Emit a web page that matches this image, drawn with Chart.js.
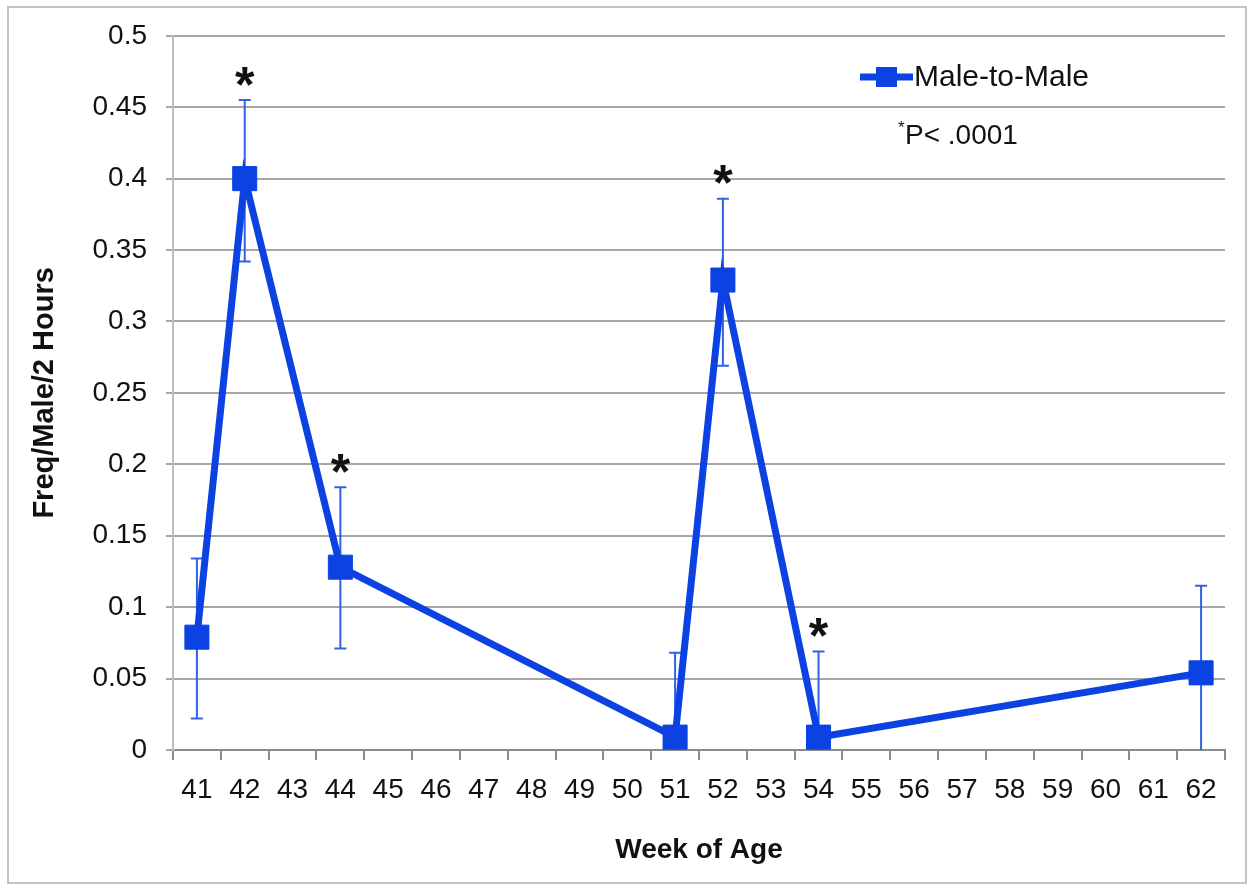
<!DOCTYPE html>
<html>
<head>
<meta charset="utf-8">
<script src="https://cdn.jsdelivr.net/npm/chart.js@4.4.0/dist/chart.umd.min.js"></script>
<style>
  html, body { margin: 0; padding: 0; background: #fff; }
  #moldura { position: absolute; left: 7px; top: 6px; width: 1236px; height: 874px; border: 2px solid #c4c4c4; }
  #grafico { position: absolute; left: 0; top: 0; }
</style>
</head>
<body>
<div id="moldura"></div>
<canvas id="grafico" width="1249" height="891"></canvas>
<script>
// semanas de idade (eixo x)
const semanas = ['41','42','43','44','45','46','47','48','49','50','51','52','53','54','55','56','57','58','59','60','61','62'];

// media Male-to-Male por semana (null = sem medida)
const mediaMM = [0.079, 0.400, null, 0.128, null, null, null, null, null, null, 0.009, 0.329, null, 0.009, null, null, null, null, null, null, null, 0.054];

// limites das barras de erro
const erroSup = [0.134, 0.455, null, 0.184, null, null, null, null, null, null, 0.068, 0.386, null, 0.069, null, null, null, null, null, null, null, 0.115];
const erroInf = [0.022, 0.342, null, 0.071, null, null, null, null, null, null, 0, 0.269, null, 0, null, null, null, null, null, null, null, 0];

// * = P < .0001
const significativo = [false, true, false, true, false, false, false, false, false, false, false, true, false, true, false, false, false, false, false, false, false, false];

const yTicks = { min: 0, max: 0.5, passo: 0.05 };

const corLinha = '#0c42e2';
const corErro = '#2f62e6';
const fonte = "'Liberation Sans', Arial, sans-serif";

const extras = {
    id: 'extras',
    beforeDatasetsDraw(chart) {
        const ctx = chart.ctx;
        const x = chart.scales.x;
        const y = chart.scales.y;
        ctx.save();
        ctx.strokeStyle = corErro;
        ctx.lineWidth = 2;
        mediaMM.forEach((v, i) => {
            if (v === null) return;
            const px = x.getPixelForValue(i);
            const topo = y.getPixelForValue(erroSup[i]);
            const base = y.getPixelForValue(Math.max(erroInf[i], 0));
            ctx.beginPath();
            ctx.moveTo(px, topo);
            ctx.lineTo(px, base);
            ctx.moveTo(px - 6, topo);
            ctx.lineTo(px + 6, topo);
            if (erroInf[i] > 0) {
                ctx.moveTo(px - 6, base);
                ctx.lineTo(px + 6, base);
            }
            ctx.stroke();
        });
        ctx.restore();
    },
    afterDraw(chart) {
        const ctx = chart.ctx;
        const x = chart.scales.x;
        const y = chart.scales.y;
        ctx.save();

        // asteriscos
        ctx.fillStyle = '#111';
        ctx.font = 'bold 50px ' + fonte;
        ctx.textAlign = 'center';
        ctx.textBaseline = 'alphabetic';
        significativo.forEach((s, i) => {
            if (!s) return;
            const px = x.getPixelForValue(i);
            const topo = y.getPixelForValue(erroSup[i]);
            ctx.fillText('*', px, topo - 27 + 50 * 0.57);
        });

        // legenda
        ctx.strokeStyle = corLinha;
        ctx.lineWidth = 7;
        ctx.beginPath();
        ctx.moveTo(860, 77);
        ctx.lineTo(913, 77);
        ctx.stroke();
        ctx.fillStyle = corLinha;
        ctx.fillRect(876, 67, 21, 20);
        ctx.fillStyle = '#111';
        ctx.textAlign = 'left';
        ctx.textBaseline = 'middle';
        ctx.font = '30px ' + fonte;
        ctx.fillText('Male-to-Male', 914, 78);

        // nota
        ctx.font = '17px ' + fonte;
        ctx.fillText('*', 898, 128);
        ctx.font = '28px ' + fonte;
        ctx.fillText('P< .0001', 905, 136);
        ctx.restore();
    }
};

const ctx = document.getElementById('grafico').getContext('2d');
new Chart(ctx, {
    type: 'line',
    data: {
        labels: semanas,
        datasets: [{
            label: 'Male-to-Male',
            data: mediaMM,
            borderColor: corLinha,
            backgroundColor: corLinha,
            borderWidth: 7,
            pointStyle: 'rect',
            pointRadius: 17,
            pointBorderWidth: 1,
            pointBackgroundColor: corLinha,
            pointBorderColor: corLinha,
            spanGaps: true,
            tension: 0
        }]
    },
    options: {
        responsive: false,
        animation: false,
        layout: { padding: { left: 12, right: 24, top: 32, bottom: 12 } },
        plugins: {
            legend: { display: false },
            tooltip: { enabled: false }
        },
        scales: {
            x: {
                offset: true,
                grid: { offset: true, drawOnChartArea: false, tickLength: 10, color: '#8c8c8c', lineWidth: 2 },
                border: { color: '#8c8c8c', width: 2 },
                ticks: { color: '#111', font: { family: fonte, size: 28 }, padding: 13, maxRotation: 0, autoSkip: false },
                title: { display: true, text: 'Week of Age', color: '#111', font: { family: fonte, size: 28, weight: 'bold' }, padding: { top: 10, bottom: 12 } },
                afterFit(s) { s.height = 891 - 12 - 750; }
            },
            y: {
                min: yTicks.min,
                max: yTicks.max,
                ticks: {
                    stepSize: yTicks.passo,
                    color: '#111',
                    font: { family: fonte, size: 28 },
                    padding: 19,
                    callback: v => String(Number(v.toFixed(2)))
                },
                grid: { color: '#a6a6a6', lineWidth: 2, tickLength: 7 },
                border: { color: '#bdbdbd', width: 2 },
                title: { display: true, text: 'Freq/Male/2 Hours', color: '#111', font: { family: fonte, size: 29, weight: 'bold' }, padding: { top: 16, bottom: 10 } },
                afterFit(s) { s.width = 173 - 12; }
            }
        }
    },
    plugins: [extras]
});
</script>
</body>
</html>
